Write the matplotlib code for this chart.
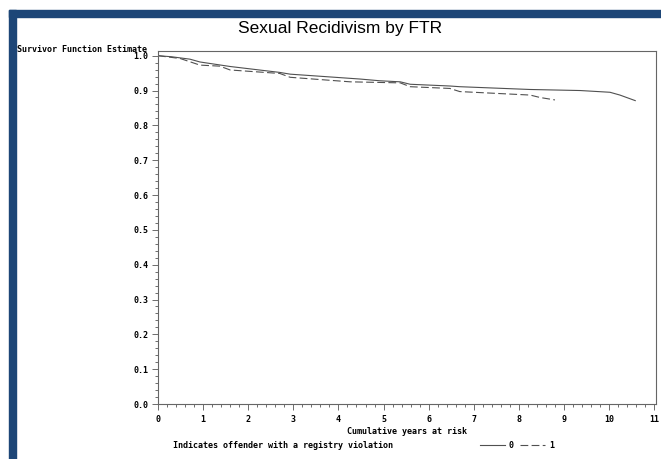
import matplotlib.pyplot as plt
from matplotlib.patches import Rectangle
from matplotlib.ticker import MultipleLocator

# survival estimates
years0 = [0, 0.3, 0.71, 0.93, 1.6, 2.7, 2.93, 4.48, 4.92, 5.37, 5.59, 6.47,
          6.69, 8.25, 9.36, 10.02, 10.24, 10.58]
surv0 = [1.0, 0.997, 0.99, 0.982, 0.969, 0.952, 0.947, 0.933, 0.928, 0.925,
         0.918, 0.913, 0.911, 0.903, 0.900, 0.895, 0.887, 0.871]

years1 = [0, 0.49, 0.93, 1.37, 1.6, 2.7, 2.93, 4.26, 5.37, 5.59, 6.47, 6.69,
          8.25, 8.47, 8.8]
surv1 = [1.0, 0.992, 0.973, 0.970, 0.959, 0.949, 0.938, 0.925, 0.922, 0.911,
         0.906, 0.897, 0.887, 0.880, 0.873]

xticks = list(range(0, 12))
yticks = [0.0, 0.1, 0.2, 0.3, 0.4, 0.5, 0.6, 0.7, 0.8, 0.9, 1.0]

mono = dict(family='DejaVu Sans Mono', fontweight='bold', fontsize=6)
line_col = '#505050'
frame_col = '#1d4677'

fig = plt.figure(figsize=(6.61, 4.59), dpi=100)
W, H = 661, 459

# dark blue frame, top and left
fig.patches.append(Rectangle((9 / W, 0), 7 / W, 449 / H, transform=fig.transFigure,
                             color=frame_col, zorder=0))
fig.patches.append(Rectangle((9 / W, 442 / H), 652 / W, 7 / H, transform=fig.transFigure,
                             color=frame_col, zorder=0))

ax = fig.add_axes([158 / W, 1 - 404 / H, 498 / W, 353 / H])
ax.plot(years0, surv0, '-', color=line_col, lw=0.8, label='0')
ax.plot(years1, surv1, '--', color=line_col, lw=0.8, dashes=(7, 3), label='1')

ax.set_xlim(0, 11.04)
ax.set_ylim(0, 1.0135)
ax.set_xticks(xticks)
ax.set_yticks(yticks)
ax.set_xticklabels([str(v) for v in xticks], **mono)
ax.set_yticklabels(['%.1f' % v for v in yticks], **mono)
ax.xaxis.set_minor_locator(MultipleLocator(0.2))
ax.yaxis.set_minor_locator(MultipleLocator(0.02))
ax.tick_params(which='major', length=4, width=0.6, color='#555555')
ax.tick_params(axis='x', which='major', pad=4)
ax.tick_params(axis='y', which='major', pad=3)
ax.tick_params(which='minor', length=2, width=0.6, color='#555555')
for s in ax.spines.values():
    s.set_color('#666666')
    s.set_linewidth(0.8)

ax.set_xlabel('Cumulative years at risk', **mono)
ax.xaxis.set_label_coords(407 / W, 1 - 431 / H, transform=fig.transFigure)
ax.xaxis.label.set_va('center')
fig.text(17 / W, 1 - 49 / H, 'Survivor Function Estimate', ha='left', va='center', **mono)
fig.text(340 / W, 1 - 28 / H, 'Sexual Recidivism by FTR', ha='center', va='center',
         family='Liberation Sans', fontsize=12.5)

fig.text(173 / W, 1 - 445 / H, 'Indicates offender with a registry violation',
         ha='left', va='center', **mono)
leg = ax.legend(ncol=2, frameon=False, loc='center left',
                bbox_to_anchor=(472 / W, 1 - 445 / H), bbox_transform=fig.transFigure,
                prop=dict(family='DejaVu Sans Mono', weight='bold', size=6),
                handlelength=3.0, handletextpad=0.5, columnspacing=0.8)

fig.savefig('out.png', dpi=100)
